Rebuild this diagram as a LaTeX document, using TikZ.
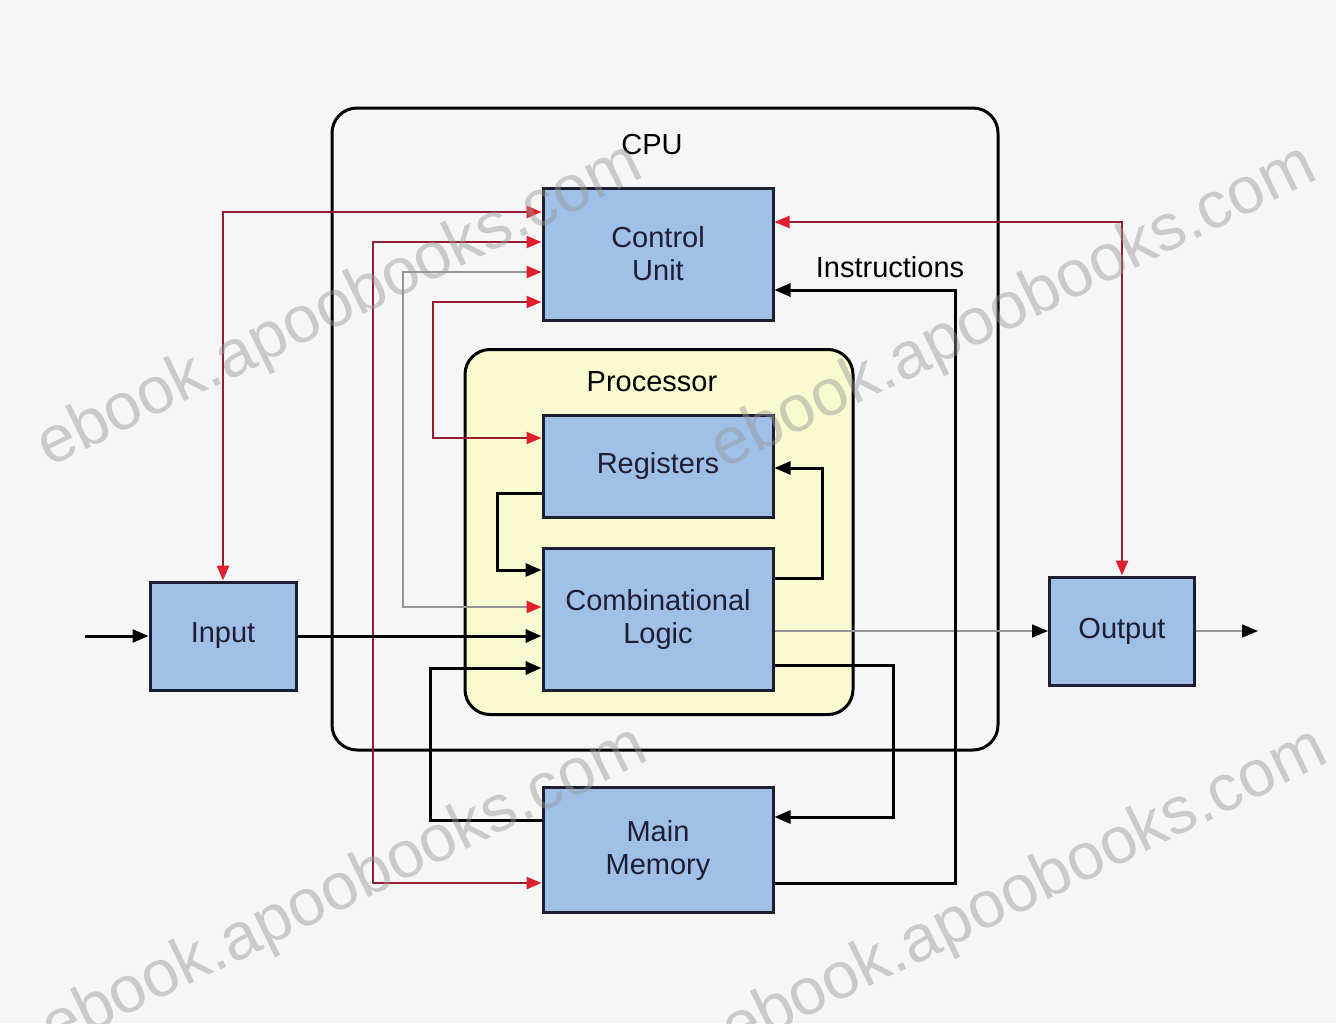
\documentclass[tikz,border=0pt]{standalone}
\usepackage{fontspec}
\setmainfont{Liberation Sans}
\usetikzlibrary{arrows.meta,calc}
\definecolor{bg}{RGB}{246,246,246}
\definecolor{boxblue}{RGB}{160,192,232}
\definecolor{boxline}{RGB}{30,30,50}
\definecolor{procyellow}{RGB}{250,250,208}
\definecolor{ctrlred}{RGB}{150,30,50}
\definecolor{tipred}{RGB}{225,30,45}
\definecolor{wmgray}{RGB}{150,150,150}
\definecolor{thingray}{RGB}{150,150,150}
\newcommand{\lblfont}{\fontsize{29}{33}\selectfont}
\begin{document}
\begin{tikzpicture}[x=1pt,y=-1pt,
  unitbox/.style={draw=boxline, line width=3pt, fill=boxblue, minimum width=230pt,
    align=center, font=\lblfont, inner sep=0pt, text=boxline},
  sidebox/.style={unitbox, minimum width=146pt, minimum height=108pt},
  frame/.style={draw=black, line width=3pt, rounded corners=25pt, inner sep=0pt},
  lbl/.style={font=\lblfont, inner sep=0pt},
  dtip/.style={-{Triangle[length=16pt,width=13pt]}},
  dline/.style={line width=3pt, black, dtip},
  gline/.style={line width=1.6pt, thingray, -{Triangle[length=16pt,width=13pt,color=black]}},
  rtip/.style={{Triangle[length=15pt,width=12pt,color=tipred]}-{Triangle[length=15pt,width=12pt,color=tipred]}},
  cline/.style={line width=2.6pt, ctrlred, rtip},
  wmark/.style={font=\fontsize{66}{70}\selectfont, text=wmgray, text opacity=0.45, rotate=26, inner sep=0pt}
]
\useasboundingbox (0,0) rectangle (1336,1023);
\fill[bg] (0,0) rectangle (1336,1023);

% containers
\node[frame, minimum width=666pt, minimum height=642pt] (cpu) at (665,429) {};
\node[lbl] (cpulbl) at (652,145) {CPU};
\node[frame, fill=procyellow, minimum width=388pt, minimum height=365pt] (proc) at (659,532) {};
\node[lbl] (proclbl) at (652,382) {Processor};

% units
\node[unitbox, minimum height=132pt] (cu) at (658,254) {Control\\Unit};
\node[unitbox, minimum height=102pt] (reg) at (658,466) {Registers};
\node[unitbox, minimum height=142pt] (comb) at (658,619) {Combinational\\Logic};
\node[unitbox, minimum height=125pt] (mm) at (658,850) {Main\\Memory};
\node[sidebox] (input) at (223,636) {Input};
\node[sidebox, minimum width=145pt] (output) at (1122,631) {Output};

% free ends
\coordinate (inlead) at (85,636);
\coordinate (outlead) at (1258,631);

% control lines
\draw[cline] (cu.west |- 0,212) -| (input.north);
\draw[cline] (cu.west |- 0,242) -- (373,242) -- (373,883) -- (mm.west |- 0,883);
\draw[cline, draw=thingray] (cu.west |- 0,272) -- (403,272) -- (403,607) -- (comb.west |- 0,607);
\draw[cline] (cu.west |- 0,302) -- (433,302) -- (433,438) -- (reg.west |- 0,438);
\draw[cline] (cu.east |- 0,222) -| (output.north);

% data lines
\draw[dline] (inlead) -- (input.west);
\draw[dline] (input.east) -- (comb.west |- input.east);
\draw[dline] (reg.west |- 0,493) -- (497,493) -- (497,570) -- (comb.west |- 0,570);
\draw[dline] (comb.east |- 0,578) -- (822,578) -- (822,468) -- (reg.east |- 0,468);
\draw[gline] (comb.east |- output.west) -- (output.west);
\draw[gline] (output.east) -- (outlead);
\draw[dline] (comb.east |- 0,665) -- (893,665) -- (893,817) -- (mm.east |- 0,817);
\draw[dline] (mm.west |- 0,820) -- (430,820) -- (430,668) -- (comb.west |- 0,668);
\draw[dline] (mm.east |- 0,883) -- (955,883) -- (955,290) -- (cu.east |- 0,290);
\node[lbl] (instr) at (890,267) {Instructions};

% watermarks
\node[wmark] (wm1) at (340,307) {ebook.apoobooks.com};
\node[wmark] (wm2) at (1014,309) {ebook.apoobooks.com};
\node[wmark] (wm3) at (345,890) {ebook.apoobooks.com};
\node[wmark] (wm4) at (1025,892) {ebook.apoobooks.com};
\end{tikzpicture}
\end{document}
